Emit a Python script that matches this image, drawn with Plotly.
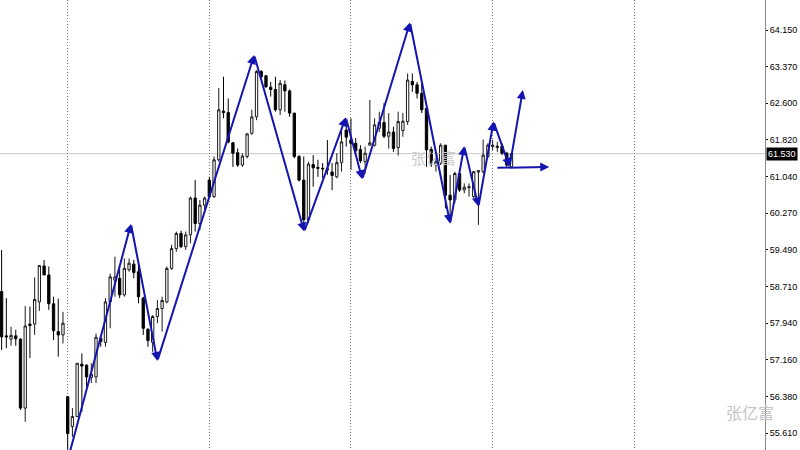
import plotly.graph_objects as go

# bar index (0 = first dotted grid line), one candle per bar
bar_index = list(range(-14, 95))

opens = [58.61, 57.67, 57.60, 57.67, 57.60, 56.14, 57.92, 57.92, 58.39, 59.15, 58.96, 58.35, 57.76, 57.69,
         56.38, 55.75, 55.96, 57.07, 57.05, 56.79, 56.80, 57.62, 57.53, 58.39, 58.85, 58.89, 58.54, 59.07,
         59.19, 59.03, 58.47, 57.81, 57.53, 58.08, 58.25, 58.39, 59.10, 59.52, 59.84, 59.56, 59.81, 60.59,
         60.05, 60.44, 60.97, 60.62, 61.40, 62.43, 62.40, 61.76, 61.55, 61.29, 61.47, 61.96, 62.31, 63.27,
         63.18, 62.94, 62.89, 62.46, 62.99, 62.86, 62.39, 61.47, 60.97, 60.13, 61.30, 61.24, 61.22, 61.21,
         61.14, 61.04, 61.34, 62.03, 61.82, 61.75, 61.62, 61.36, 61.71, 61.71, 62.07, 62.19, 61.90, 61.99,
         61.66, 62.02, 62.21, 63.06, 62.99, 62.81, 62.49, 61.62, 61.29, 61.33, 61.71, 60.65, 60.55, 61.11,
         60.76, 60.81, 60.62, 61.14, 61.15, 61.47, 61.68, 61.66, 61.69, 61.54, 61.25]
highs = [59.49, 58.47, 57.86, 57.80, 57.62, 58.30, 58.29, 58.91, 59.17, 59.28, 59.14, 58.50, 58.46, 58.18,
         56.40, 56.14, 57.09, 57.30, 57.07, 57.09, 57.72, 57.67, 58.47, 58.99, 59.35, 59.14, 59.31, 59.31,
         59.28, 59.24, 58.50, 57.83, 58.11, 58.43, 58.50, 59.14, 59.60, 59.88, 59.90, 59.88, 60.62, 60.97,
         60.55, 60.62, 61.04, 61.47, 62.92, 63.16, 62.70, 61.78, 61.64, 61.54, 61.96, 62.46, 63.30, 63.30,
         63.20, 63.05, 63.16, 63.09, 63.08, 62.89, 62.39, 61.50, 61.47, 61.36, 61.50, 61.40, 61.33, 61.82,
         61.33, 61.54, 62.03, 62.24, 62.28, 61.86, 61.71, 61.68, 62.67, 62.28, 62.42, 62.60, 62.39, 62.10,
         62.42, 62.39, 63.23, 63.23, 63.05, 63.02, 62.52, 61.68, 61.47, 61.75, 61.71, 61.08, 61.15, 61.18,
         60.90, 60.90, 61.15, 61.18, 61.83, 61.75, 61.82, 61.78, 61.75, 61.57, 61.57]
lows = [57.37, 57.41, 57.46, 57.46, 56.10, 55.85, 57.20, 57.69, 58.20, 58.96, 58.22, 57.58, 57.23, 57.51,
        55.20, 55.53, 55.95, 56.06, 56.59, 56.67, 56.67, 57.44, 57.44, 57.83, 58.50, 58.47, 58.50, 59.03,
        58.89, 58.36, 57.69, 57.44, 57.33, 57.94, 57.76, 58.36, 59.07, 59.45, 59.53, 59.49, 59.63, 59.88,
        59.91, 60.34, 60.59, 60.59, 61.36, 62.28, 61.75, 61.25, 61.25, 61.25, 61.43, 61.93, 62.24, 63.13,
        62.92, 62.74, 62.42, 62.35, 62.42, 62.31, 61.43, 60.94, 60.06, 60.06, 60.83, 61.04, 61.01, 61.08,
        60.76, 61.01, 61.15, 61.68, 61.19, 61.54, 61.33, 61.11, 61.71, 61.68, 61.99, 61.86, 61.64, 61.57,
        61.49, 61.89, 62.14, 62.84, 62.70, 62.39, 61.25, 61.25, 61.15, 61.29, 60.37, 60.06, 60.48, 60.72,
        60.69, 60.62, 60.59, 60.02, 61.11, 61.43, 61.61, 61.57, 61.50, 61.25, 61.25]
closes = [57.65, 57.65, 57.68, 57.61, 56.14, 57.88, 57.89, 58.44, 59.16, 58.96, 58.35, 57.78, 57.69, 57.94,
          55.60, 55.96, 57.09, 57.03, 56.80, 56.86, 57.64, 57.55, 58.39, 58.92, 58.92, 58.54, 59.10, 59.21,
          59.01, 58.50, 57.83, 57.57, 58.08, 58.25, 58.42, 59.10, 59.52, 59.84, 59.56, 59.81, 60.59, 60.05,
          60.44, 60.59, 60.62, 61.40, 62.46, 62.40, 61.78, 61.54, 61.29, 61.48, 61.95, 62.31, 63.27, 63.16,
          62.95, 62.89, 62.46, 63.02, 62.86, 62.39, 61.47, 60.97, 60.13, 61.31, 61.23, 61.22, 61.21, 61.19,
          61.07, 61.34, 61.78, 61.88, 61.75, 61.59, 61.38, 61.54, 61.76, 62.14, 62.19, 61.90, 61.99, 61.64,
          62.21, 62.22, 63.09, 62.99, 62.81, 62.46, 61.61, 61.33, 61.36, 61.71, 60.65, 60.55, 61.11, 60.76,
          60.82, 60.83, 61.15, 61.17, 61.50, 61.71, 61.71, 61.69, 61.54, 61.29, 61.53]

# hand-drawn zigzag (bar index, price)
zigzag_x = [0.3, 13.4, 19.0, 39.5, 50.1, 58.9, 62.4, 72.5, 81.0, 84.0, 87.0, 90.2, 93.6, 96.4]
zigzag_y = [55.15, 60.04, 57.14, 63.62, 59.88, 62.30, 60.99, 64.31, 60.05, 61.69, 60.41, 62.21, 61.25, 62.88]
flat_arrow_x = [90.7, 102.0]
flat_arrow_y = [61.23, 61.25]

price_ticks = [55.610, 56.380, 57.160, 57.940, 58.710, 59.490, 60.270, 61.040, 61.820, 62.600, 63.370, 64.150]
tick_text = ["%.3f" % v for v in price_ticks]
last_price = 61.530
grid_bars = [0, 30, 60, 90, 120]
watermark = "张亿富"

BLUE = "#1414b0"
AXIS_FONT = dict(family="Liberation Sans, Arial, sans-serif", size=9, color="#000000")

fig = go.Figure()

# watermark behind candles
fig.add_trace(go.Scatter(x=[77.5], y=[61.40], mode="text", text=[watermark],
                         textfont=dict(family="Noto Sans CJK SC", size=15, color="#cccccc"),
                         hoverinfo="skip", showlegend=False))

fig.add_trace(go.Candlestick(
    x=bar_index, open=opens, high=highs, low=lows, close=closes,
    increasing=dict(line=dict(color="#1a1a1a", width=1), fillcolor="#ffffff"),
    decreasing=dict(line=dict(color="#000000", width=1), fillcolor="#000000"),
    whiskerwidth=0, showlegend=False, hoverinfo="skip"))

annotations = []
for i in range(1, len(zigzag_x)):
    annotations.append(dict(x=zigzag_x[i], y=zigzag_y[i], ax=zigzag_x[i - 1], ay=zigzag_y[i - 1],
                            xref="x", yref="y", axref="x", ayref="y", text="", showarrow=True,
                            arrowhead=2, arrowsize=0.9, arrowwidth=2, arrowcolor=BLUE))
annotations.append(dict(x=flat_arrow_x[1], y=flat_arrow_y[1], ax=flat_arrow_x[0], ay=flat_arrow_y[0],
                        xref="x", yref="y", axref="x", ayref="y", text="", showarrow=True,
                        arrowhead=2, arrowsize=0.9, arrowwidth=2, arrowcolor=BLUE))
# current price label
annotations.append(dict(x=1, xref="paper", xanchor="left", y=last_price, yref="y", yanchor="middle",
                        text="%.3f" % last_price, showarrow=False, bgcolor="#000000",
                        font=dict(family="Liberation Sans, Arial, sans-serif", size=9, color="#ffffff"),
                        borderpad=1, xshift=1))
# bottom-right watermark
annotations.append(dict(x=750 / 765, xref="paper", xanchor="center", y=1 - 412 / 450, yref="paper",
                        yanchor="middle", text=watermark, showarrow=False,
                        font=dict(family="Noto Sans CJK SC", size=16, color="#c4c4c4")))

fig.update_layout(
    width=800, height=450,
    margin=dict(l=0, r=35, t=0, b=0, autoexpand=False),
    paper_bgcolor="#ffffff", plot_bgcolor="#ffffff",
    showlegend=False,
    annotations=annotations,
    shapes=[dict(type="line", xref="paper", x0=0, x1=1, yref="y", y0=last_price, y1=last_price,
                 line=dict(color="#c8c8c8", width=1), layer="below")],
    xaxis=dict(range=[-14.34, 147.7], tickvals=grid_bars, showticklabels=False, ticks="",
               showgrid=True, gridcolor="#7a7a7a", griddash="1px,2px", gridwidth=1,
               zeroline=False, showline=False, rangeslider=dict(visible=False), fixedrange=True),
    yaxis=dict(range=[55.252, 64.786], side="right", tickvals=price_ticks, ticktext=tick_text,
               showgrid=False, zeroline=False, showline=True, linecolor="#888888", linewidth=1,
               ticks="outside", ticklen=2, tickcolor="#000000", ticklabelstandoff=0,
               tickfont=AXIS_FONT, fixedrange=True),
)

fig.write_html("out.html", config={"displayModeBar": False},
               post_script="document.body.style.margin='0';document.body.style.overflow='hidden';")
